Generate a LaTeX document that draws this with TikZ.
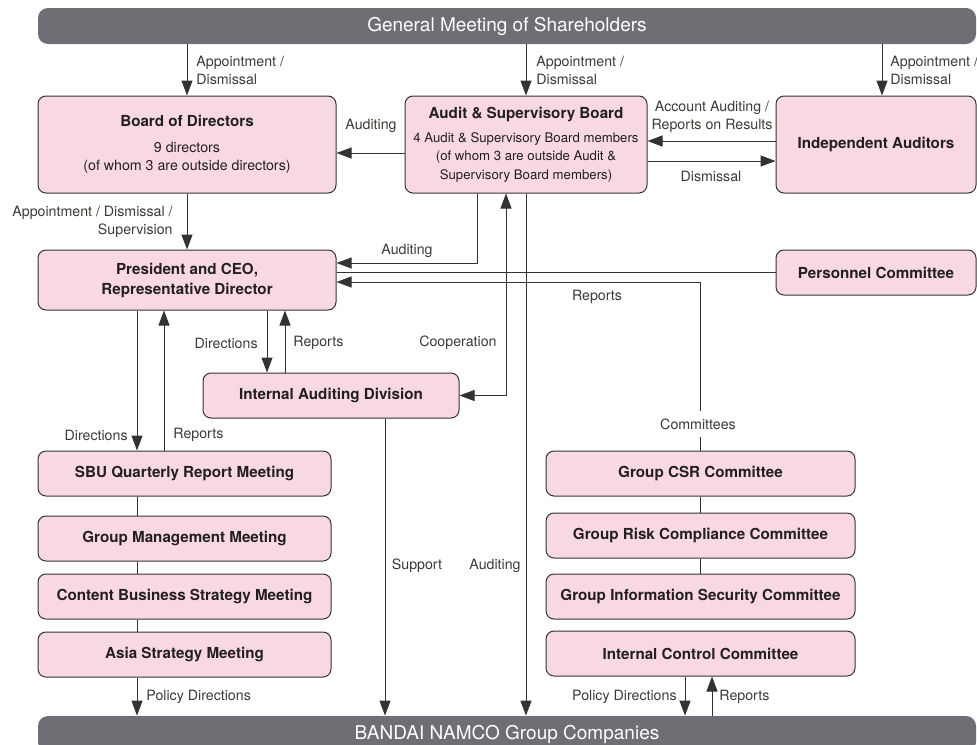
\documentclass[tikz,border=0pt]{standalone}
\usepackage{fontspec}
\setmainfont{TeX Gyre Heros}
\usepackage{tikz}
\usetikzlibrary{arrows.meta}

\definecolor{boxpink}{HTML}{F8D9E1}
\definecolor{bargray}{HTML}{6E6F75}
\definecolor{linegray}{HTML}{333333}
\definecolor{textdark}{HTML}{231F20}
\definecolor{textgray}{HTML}{3D3935}

\newcommand\titlefont{\fontsize{7.6}{10}\selectfont\bfseries}
\newcommand\lblfont{\fontsize{7.1}{9}\selectfont}
\newcommand\smallfont{\fontsize{6.6}{9.2}\selectfont}
\newcommand\barfont{\fontsize{9.5}{11}\selectfont}

\tikzset{
  unit/.style={draw=linegray, fill=boxpink, rounded corners=4pt, line width=0.5pt,
    align=center, inner sep=0pt, font=\titlefont, text=textdark},
  bar/.style={fill=bargray, rounded corners=5pt, text=white, font=\barfont, inner sep=0pt},
  lbl/.style={font=\lblfont, text=textgray, inner sep=0pt},
  link/.style={draw=linegray, line width=0.5pt},
  arr/.style={link, -{Triangle[length=7.5pt,width=5.5pt]}},
  arrboth/.style={link, {Triangle[length=7.5pt,width=5.5pt]}-{Triangle[length=7.5pt,width=5.5pt]}},
}

\begin{document}
\begin{tikzpicture}[x=0.5pt,y=-0.5pt]
  \useasboundingbox (0,0) rectangle (977,744);

  % bars
  \node[bar, minimum width=469pt, minimum height=18pt] (gms) at (507,26) {General Meeting of Shareholders};
  \node[bar, minimum width=469pt, minimum height=18pt] (bnc) at (507,734) {BANDAI NAMCO Group Companies};

  % top row
  \node[unit, minimum width=149pt, minimum height=48.5pt] (bod) at (187,144.5)
    {Board of Directors\\[3pt]{\lblfont\mdseries 9 directors}\\[-1pt]{\lblfont\mdseries (of whom 3 are outside directors)}};
  \node[unit, minimum width=121pt, minimum height=48.5pt] (asb) at (526,144.5)
    {Audit \& Supervisory Board\\[2pt]{\smallfont\mdseries 4 Audit \& Supervisory Board members}\\[-0.6pt]{\smallfont\mdseries (of whom 3 are outside Audit \&}\\[-0.8pt]{\smallfont\mdseries Supervisory Board members)}};
  \node[unit, minimum width=100pt, minimum height=48.5pt] (ind) at (876,144.5) {Independent Auditors};

  % second row
  \node[unit, minimum width=149pt, minimum height=30pt] (pres) at (187,280) {President and CEO,\\Representative Director};
  \node[unit, minimum width=100pt, minimum height=22.5pt] (pers) at (876,272.5) {Personnel Committee};
  \node[unit, minimum width=128pt, minimum height=22.5pt] (iad) at (331,395.5) {Internal Auditing Division};

  % meetings
  \node[unit, minimum width=146.5pt, minimum height=22.5pt] (sbu) at (184.5,473.5) {SBU Quarterly Report Meeting};
  \node[unit, minimum width=146.5pt, minimum height=22.5pt] (gmm) at (184.5,538.5) {Group Management Meeting};
  \node[unit, minimum width=146.5pt, minimum height=22.5pt] (cbs) at (184.5,596.5) {Content Business Strategy Meeting};
  \node[unit, minimum width=146.5pt, minimum height=22.5pt] (asm) at (184.5,654.5) {Asia Strategy Meeting};

  % committees
  \node[unit, minimum width=154.5pt, minimum height=22.5pt] (csr) at (700.5,473.5) {Group CSR Committee};
  \node[unit, minimum width=154.5pt, minimum height=22.5pt] (grc) at (700.5,535.5) {Group Risk Compliance Committee};
  \node[unit, minimum width=154.5pt, minimum height=22.5pt] (gis) at (700.5,596.5) {Group Information Security Committee};
  \node[unit, minimum width=154.5pt, minimum height=22.5pt] (icc) at (700.5,653.5) {Internal Control Committee};

  % helper points
  \coordinate (appI) at ([xshift=3pt]ind.north);
  \coordinate (audB) at ([yshift=-4.25pt]asb.west);
  \coordinate (accA) at ([yshift=1.75pt]ind.west);
  \coordinate (disA) at ([yshift=-8.25pt]asb.east);
  \coordinate (audX) at ([xshift=-24.5pt]asb.south);
  \coordinate (audP) at ([yshift=8.5pt]pres.east);
  \coordinate (comP) at ([yshift=-1pt]pres.east);
  \coordinate (coopX) at ([xshift=-10pt]asb.south);
  \coordinate (dirI) at ([xshift=-32pt]iad.north);
  \coordinate (repI) at ([xshift=-23pt]iad.north);
  \coordinate (supI) at ([xshift=27pt]iad.south);
  \coordinate (dirL) at ([xshift=-23.75pt]sbu.north);
  \coordinate (repL) at ([xshift=-10.25pt]sbu.north);
  \coordinate (polR) at ([xshift=-7.75pt]icc.south);
  \coordinate (repR) at ([xshift=5.75pt]icc.south);

  % connectors
  \draw[arr] (gms.south -| bod.north) -- (bod.north);
  \draw[arr] (gms.south -| asb.north) -- (asb.north);
  \draw[arr] (appI |- gms.south) -- (appI);
  \draw[arr] (audB) -- (audB -| bod.east);
  \draw[arr] (accA) -- (accA -| asb.east);
  \draw[arr] (disA) -- (disA -| ind.west);
  \draw[arr] (bod.south) -- (pres.north);
  \draw[arr] (audX) |- (audP);
  \draw[link] (pers.west) -- (pers.west -| pres.east);
  \draw[arr] (csr.north) |- (comP);
  \draw[arrboth] (iad.east) -| (coopX);
  \draw[arr] (asb.south) -- (asb.south |- bnc.north);
  \draw[arr] (dirI |- pres.south) -- (dirI);
  \draw[arr] (repI) -- (repI |- pres.south);
  \draw[arr] (supI) -- (supI |- bnc.north);
  \draw[arr] (dirL |- pres.south) -- (dirL);
  \draw[arr] (repL) -- (repL |- pres.south);
  \draw[link] (dirL |- sbu.south) -- (dirL |- gmm.north);
  \draw[link] (dirL |- gmm.south) -- (dirL |- cbs.north);
  \draw[link] (dirL |- cbs.south) -- (dirL |- asm.north);
  \draw[arr] (dirL |- asm.south) -- (dirL |- bnc.north);
  \draw[link] (csr.south) -- (grc.north);
  \draw[link] (grc.south) -- (gis.north);
  \draw[arr] (polR) -- (polR |- bnc.north);
  \draw[arr] (repR |- bnc.north) -- (repR);

  % labels
  \node[lbl, anchor=west, align=left] (lAppB) at (196,70) {Appointment /\\Dismissal};
  \node[lbl, anchor=west, align=left] (lAppA) at (536,70) {Appointment /\\Dismissal};
  \node[lbl, anchor=west, align=left] (lAppI) at (890,70) {Appointment /\\Dismissal};
  \node[lbl] (lAudB) at (371,126) {Auditing};
  \node[lbl, align=center] (lAcc) at (712,117) {Account Auditing /\\Reports on Results};
  \node[lbl] (lDis) at (711,176) {Dismissal};
  \node[lbl, anchor=east, align=right] (lSupv) at (173,222) {Appointment / Dismissal /\\Supervision};
  \node[lbl] (lAudP) at (407,251) {Auditing};
  \node[lbl] (lRepC) at (597,297) {Reports};
  \node[lbl, anchor=east] (lDirI) at (258,343) {Directions};
  \node[lbl, anchor=west] (lRepI) at (293,343) {Reports};
  \node[lbl, anchor=east] (lCoop) at (497,343) {Cooperation};
  \node[lbl, anchor=east] (lDirL) at (128,435) {Directions};
  \node[lbl, anchor=west] (lRepL) at (173,435) {Reports};
  \node[lbl, fill=white, inner xsep=1pt, inner ysep=4pt] (lCom) at (698,424) {Committees};
  \node[lbl] (lSupp) at (417,566) {Support};
  \node[lbl] (lAudG) at (495,566) {Auditing};
  \node[lbl, anchor=west] (lPolL) at (146,697) {Policy Directions};
  \node[lbl, anchor=east] (lPolR) at (677,697) {Policy Directions};
  \node[lbl, anchor=west] (lRepR) at (719,697) {Reports};
\end{tikzpicture}
\end{document}
